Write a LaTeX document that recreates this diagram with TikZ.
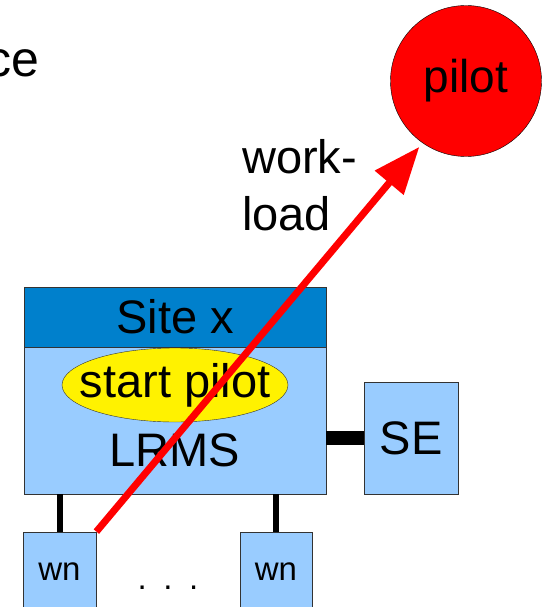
\documentclass[tikz,border=0pt]{standalone}
\usepackage{fontspec}
\setmainfont{Liberation Sans}
\usetikzlibrary{shapes.geometric,arrows.meta}
\definecolor{sitehead}{HTML}{0080CC}
\definecolor{sitebody}{HTML}{99CCFF}
\definecolor{edgegray}{HTML}{333333}
\tikzset{
  big/.style={font=\fontsize{47}{57}\selectfont},
  small/.style={font=\fontsize{33}{40}\selectfont},
  box/.style={draw=edgegray,line width=0.8pt,fill=sitebody,inner sep=0pt},
  link/.style={line width=#1,black},
}
\begin{document}
\begin{tikzpicture}[x=1pt,y=-1pt]
        \useasboundingbox (0,0) rectangle (545,607);
        \node[big,anchor=base east,inner sep=0pt,font=\fontsize{50}{57}\selectfont] (ce) at (40,77) {ce};

        \node[box,minimum width=302pt,minimum height=207pt] (site) at (175,390.5) {};
        \node[box,fill=sitehead,big,minimum width=302pt,minimum height=60pt,anchor=north] (head) at (site.north) {Site x};
        \node[big,draw=edgegray,fill=yellow,ellipse,inner xsep=-16pt,inner ysep=0pt,minimum width=226pt,minimum height=74pt] (start) at (175,385) {start pilot};
        \node[big,inner sep=0pt] (lrms) at (175,450) {LRMS};

        \node[box,big,minimum width=94pt,minimum height=112pt] (se) at (411,438) {SE};
        \draw[link=14pt] (se.west -| site.east) -- (se.west);

        \node[box,small,minimum width=73pt,minimum height=80pt] (wn1) at (59.5,572) {wn};
        \node[box,small,minimum width=72pt,minimum height=80pt] (wn2) at (276,572) {wn};
        \node[small,anchor=base,inner sep=0pt] (dots) at (168,589) {.\hspace{16.5pt}.\hspace{16.5pt}.};
        \draw[link=6pt] (wn1.north) -- (wn1.north |- site.south);
        \draw[link=6pt] (wn2.north) -- (wn2.north |- site.south);

        \node[big,circle,draw=black,fill=red,minimum size=151pt,inner sep=0pt,font=\fontsize{46}{57}\selectfont] (pilot) at (466,81) {pilot};
        \node[big,align=left,anchor=north west,inner sep=0pt] (workload) at (242,139) {work-\\load};
        \draw[red,line width=7pt,-{Triangle[length=47pt,width=36pt]},shorten >=5pt] (wn1.north east) -- (pilot.235);
    \end{tikzpicture}
\end{document}
